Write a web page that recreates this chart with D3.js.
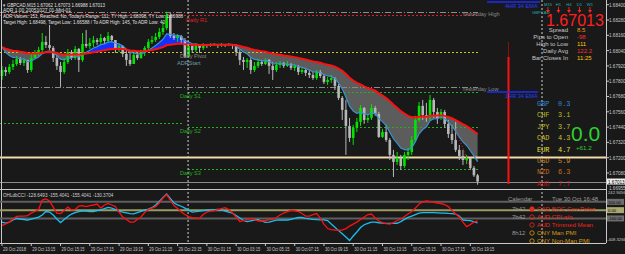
<!DOCTYPE html>
<html>
<head>
<meta charset="utf-8">
<script src="https://cdn.jsdelivr.net/npm/d3@7"></script>
<style>
body { margin: 0; background: #000; }
text { font-family: 'Liberation Sans', Arial, sans-serif; }
</style>
</head>
<body>
<div id="chart"></div>
<script>
// ---- data ----
const firstOpen = 1.67841;
const closes = [1.67888,1.67872,1.67912,1.67935,1.67975,1.67943,1.67967,1.67888,1.67982,1.68022,
  1.68045,1.68108,1.68084,1.68061,1.67982,1.67920,1.67872,1.67951,1.68029,1.67982,
  1.68053,1.67967,1.68092,1.68076,1.68100,1.68123,1.68108,1.68139,1.68116,1.68155,
  1.68123,1.68053,1.68076,1.68014,1.67967,1.67935,1.68006,1.67982,1.68022,1.68061,
  1.68108,1.68123,1.68147,1.68186,1.68217,1.68319,1.68155,1.68139,1.68155,1.68123,
  1.67993,1.68076,1.68045,1.68084,1.68061,1.68092,1.68084,1.68092,1.68092,1.68084,
  1.68092,1.68084,1.68092,1.68084,1.68029,1.67967,1.67951,1.67967,1.67888,1.67920,
  1.67951,1.67935,1.67967,1.67920,1.67888,1.67927,1.67943,1.67920,1.67935,1.67904,
  1.67920,1.67872,1.67888,1.67865,1.67849,1.67825,1.67872,1.67841,1.67794,1.67810,
  1.67825,1.67763,1.67669,1.67575,1.67449,1.67355,1.67434,1.67481,1.67590,1.67496,
  1.67512,1.67590,1.67543,1.67363,1.67402,1.67339,1.67222,1.67167,1.67198,1.67135,
  1.67222,1.67245,1.67339,1.67496,1.67606,1.67535,1.67520,1.67653,1.67559,1.67512,
  1.67559,1.67465,1.67386,1.67339,1.67261,1.67214,1.67182,1.67198,1.67120,1.67062,
  1.67013];
const highs = [1.67920,1.67912,1.67935,1.67967,1.67998,1.67990,1.67982,1.67967,1.68022,1.68045,
  1.68069,1.68178,1.68155,1.68241,1.68076,1.68006,1.67951,1.67982,1.68053,1.68045,
  1.68076,1.68061,1.68178,1.68202,1.68139,1.68155,1.68139,1.68170,1.68147,1.68186,
  1.68163,1.68123,1.68092,1.68084,1.68045,1.68029,1.68022,1.68022,1.68045,1.68076,
  1.68131,1.68155,1.68178,1.68217,1.68265,1.68345,1.68335,1.68178,1.68170,1.68163,
  1.68139,1.68092,1.68084,1.68098,1.68092,1.68098,1.68092,1.68098,1.68098,1.68092,
  1.68098,1.68092,1.68098,1.68092,1.68092,1.68045,1.67990,1.67982,1.67982,1.67951,
  1.67975,1.67967,1.67982,1.67975,1.67951,1.67951,1.67959,1.67951,1.67959,1.67943,
  1.67935,1.67927,1.67912,1.67904,1.67888,1.67872,1.67888,1.67888,1.67857,1.67833,
  1.67849,1.67833,1.67778,1.67684,1.67653,1.67512,1.67457,1.67512,1.67614,1.67598,
  1.67543,1.67622,1.67606,1.67559,1.67426,1.67457,1.67355,1.67261,1.67245,1.67222,
  1.67245,1.67277,1.67371,1.67528,1.67637,1.67653,1.67630,1.67692,1.67669,1.67590,
  1.67582,1.67575,1.67496,1.67457,1.67481,1.67300,1.67261,1.67222,1.67198,1.67135,
  1.67073];
const lows = [1.67810,1.67841,1.67857,1.67888,1.67920,1.67927,1.67920,1.67865,1.67872,1.67982,
  1.67998,1.68029,1.68061,1.68045,1.67951,1.67888,1.67755,1.67857,1.67935,1.67967,
  1.67967,1.67872,1.67951,1.68061,1.68053,1.68069,1.68084,1.68092,1.68092,1.68100,
  1.68108,1.68022,1.68029,1.67990,1.67920,1.67920,1.67951,1.67967,1.67975,1.67998,
  1.68045,1.68092,1.68108,1.68131,1.68163,1.68202,1.68139,1.68123,1.68108,1.68100,
  1.67982,1.67990,1.68022,1.68029,1.68022,1.68045,1.68061,1.68069,1.68076,1.68061,
  1.68069,1.68069,1.68076,1.68053,1.67998,1.67927,1.67888,1.67904,1.67857,1.67872,
  1.67904,1.67920,1.67927,1.67857,1.67810,1.67872,1.67904,1.67904,1.67912,1.67888,
  1.67880,1.67849,1.67857,1.67841,1.67825,1.67810,1.67810,1.67825,1.67778,1.67771,
  1.67786,1.67731,1.67653,1.67496,1.67222,1.67324,1.67300,1.67402,1.67449,1.67465,
  1.67473,1.67496,1.67528,1.67355,1.67355,1.67324,1.67182,1.67049,1.67143,1.67104,
  1.67120,1.67182,1.67222,1.67324,1.67481,1.67496,1.67481,1.67496,1.67512,1.67465,
  1.67496,1.67434,1.67355,1.67308,1.67245,1.67182,1.67143,1.67151,1.67104,1.67049,
  1.66988];
const cciRed = [-186,-165,-144,-107,-75,-71,-71,-66,-35,-16,7,122,136,110,37,-35,-41,-5,37,1,
  7,49,55,43,55,62,74,25,62,80,62,43,-23,-83,-113,-144,-144,-113,-83,-29,
  7,25,43,86,146,188,122,55,19,-23,-53,-77,-89,-95,-99,-53,-23,-11,-5,7,
  19,31,7,-35,-83,-137,-125,-113,-101,-113,-131,-131,-125,-116,-111,-89,-59,-35,-17,1,
  -5,-17,-41,-71,-71,-53,-41,-95,-168,-222,-234,-240,-240,-240,-222,-192,-168,-144,-113,-83,
  -53,-47,-95,-131,-150,-162,-168,-150,-125,-107,-77,-47,-17,25,74,98,110,104,94,86,
  80,68,43,-5,-47,-83,-144,-198,-174,-144,-129];
const cciBlue = [-144,-156,-144,-119,-101,-107,-113,-119,-107,-95,-83,-59,-17,-23,-59,-107,-150,-113,-77,-47,
  -29,-17,-8,-11,-17,-17,-5,4,17,33,25,7,-14,-25,-33,-41,-45,-29,-14,-1,
  13,30,62,104,152,194,140,86,64,47,25,1,-23,-19,-13,-5,1,4,6,8,
  4,-11,-23,-37,-65,-95,-125,-139,-129,-119,-115,-131,-148,-144,-131,-121,-119,-119,-119,-110,
  -99,-89,-89,-98,-105,-111,-115,-117,-118,-125,-168,-207,-247,-286,-324,-367,-312,-264,-210,-176,
  -160,-144,-144,-152,-156,-159,-159,-159,-158,-139,-112,-88,-71,-53,-35,-31,-31,-31,-31,-33,
  -35,-37,-40,-42,-47,-71,-119,-123,-126,-140,-155];
const timeLabels = ['29 Oct 2018','29 Oct 13:15','29 Oct 15:15','29 Oct 17:15','29 Oct 19:15','29 Oct 21:15',
  '29 Oct 23:15','30 Oct 01:15','30 Oct 03:15','30 Oct 05:15','30 Oct 07:15','30 Oct 09:15',
  '30 Oct 11:15','30 Oct 13:15','30 Oct 15:15','30 Oct 17:15','30 Oct 19:15'];
const timeLabelBars = [0,8,16,24,32,40,48,56,64,72,80,88,96,104,112,120,128];
const priceTicks = [1.68400,1.68280,1.68160,1.68040,1.67920,1.67800,1.67680,1.67560,1.67440,1.67320,1.67200,1.67080];
const pivotNames = ['Daily R1','Daily Pivot','Daily S1','Daily S2','Daily S3'];
const pivotPrices = [1.68319,1.68031,1.67717,1.67441,1.67112];
const pivotColors = ['#e02020','#c8c820','#20b020','#20b020','#20b020'];
const yesterdayNames = ['Yesterday High','Yesterday Low'];
const yesterdayPrices = [1.68345,1.67755];
const prevS2 = 1.67473, weeklyLevel = 1.67206, bid = 1.67013;
const currencies = ['GBP','CHF','JPY','CAD','EUR','USD','NZD','AUD'];
const strength = [0.3,3.1,3.7,4.3,4.7,5.9,6.3,7.7];
const strengthColors = ['#2f86d8','#b6bd1c','#c4c424','#cfc22a','#e6e232','#c88a28','#cf6a1c','#cc1414'];
const infoNames = ['Spread','Pips to Open','High to Low','Daily Avg','Bar Closes In'];
const infoValues = ['8.5','-98','111','122.2','11:25'];
const infoColors = ['#e89a10','#ff2a2a','#ffc400','#ff2a2a','#ffc400'];
const tfNames = ['M15','H1','H4','D1','W1'];
const calTimes = ['7h42','7h42','','8h12',''];
const calEvents = ['CAD BOC Gov Poloz','AUD CPI q/q','AUD Trimmed Mean','CNY Man PMI','CNY Non-Man PMI'];
const calColors = ['#e8281e','#e8281e','#e8281e','#d89a10','#d89a10'];
const cciLevels = [100, 0, -100];
// trend marks drawn by an indicator on the last bars
const trendBars = [124, 128];
const trendPrices = [1.67426, 1.67120];

// ---- layout ----
const W = 625, H = 254, R = 606,
    mainBot = 188, cciTop = 190, cciBot = 243;
const n = closes.length;
const opens = closes.map((c, i) => i === 0 ? firstOpen : closes[i - 1]);

const x = d3.scaleLinear().domain([0, n - 1]).range([2, 477.6]);
const y = d3.scaleLinear().domain([1.6697, 1.68437]).range([187, 0]);
const yc = d3.scaleLinear().domain([-408.3266, 242.9456]).range([244, cciTop]);

function ema(vals, period, seed) {
  const k = 2 / (period + 1);
  let prev = seed;
  return vals.map(v => prev = prev + k * (v - prev));
}
const slow = ema(closes, 34, 1.68076);
const fast = ema(closes, 8, 1.68123);

const svg = d3.select('#chart').append('svg')
    .attr('width', W)
    .attr('height', H)
    .style('background', '#191919');

svg.append('defs').append('clipPath').attr('id', 'clipMain')
  .append('rect').attr('x', 0).attr('y', 0).attr('width', R).attr('height', mainBot);

const main = svg.append('g').attr('clip-path', 'url(#clipMain)');

// EMA cloud
const cloudBlue = d3.area().x((d, i) => x(i))
    .y0((d, i) => y(slow[i])).y1((d, i) => y(Math.max(fast[i], slow[i])));
const cloudGray = d3.area().x((d, i) => x(i))
    .y0((d, i) => y(slow[i])).y1((d, i) => y(Math.min(fast[i], slow[i])));
main.append('path').datum(closes).attr('d', cloudGray).attr('fill', '#5c5c5c');
main.append('path').datum(closes).attr('d', cloudBlue).attr('fill', '#1430ff');

// level lines
function hline(g, p, x1, x2, color, dash, width) {
  g.append('line').attr('x1', x1).attr('x2', x2).attr('y1', Math.round(y(p)) + 0.5).attr('y2', Math.round(y(p)) + 0.5)
    .attr('stroke', color).attr('stroke-width', width || 1).attr('stroke-dasharray', dash || null);
}
yesterdayPrices.forEach(p => hline(main, p, 0, 478, '#8a8a8a', '6,2,1,2'));
pivotPrices.forEach((p, i) => hline(main, p, i <= 1 ? 0 : 188, 478, pivotColors[i], '2,2'));
hline(main, prevS2, 0, 182, '#20b020', '2,2');
hline(main, weeklyLevel, 0, R, '#f2dca8', null, 2);
hline(main, bid, 0, R, '#8c8c8c', null, 1);

// period separators
[x(51) - 0.5, 542].forEach(sx => {
  svg.append('line').attr('x1', sx).attr('x2', sx).attr('y1', 0).attr('y2', cciBot)
    .attr('stroke', '#d0d0d0').attr('stroke-dasharray', '2,2');
});

// candles
const bw = 2.6;
const cg = main.append('g');
closes.forEach((c, i) => {
  const up = c >= opens[i];
  const col = up ? '#00e600' : '#b8b8b8';
  cg.append('line').attr('x1', x(i)).attr('x2', x(i))
    .attr('y1', y(highs[i])).attr('y2', y(lows[i])).attr('stroke', col).attr('stroke-width', 1);
  const t = y(Math.max(c, opens[i])), b = y(Math.min(c, opens[i]));
  cg.append('rect').attr('x', x(i) - bw / 2).attr('y', t).attr('width', bw).attr('height', Math.max(1, b - t))
    .attr('fill', col);
});

// EMA lines
const lineOf = arr => d3.line().x((d, i) => x(i)).y(d => y(d))(arr);
main.append('path').attr('d', lineOf(fast)).attr('fill', 'none').attr('stroke', '#3a92cc').attr('stroke-width', 1.2);
main.append('path').attr('d', lineOf(slow)).attr('fill', 'none').attr('stroke', '#ff1010').attr('stroke-width', 2);
main.append('line').attr('x1', x(trendBars[0])).attr('x2', x(trendBars[1]))
  .attr('y1', y(trendPrices[0])).attr('y2', y(trendPrices[1]))
  .attr('stroke', '#ff2020').attr('stroke-dasharray', '1,2');

// level labels
const lab = (t, lx, ly, col, size) => svg.append('text').attr('x', lx).attr('y', ly).text(t)
    .attr('fill', col).style('font-size', (size || 6) + 'px');
pivotNames.forEach((t, i) => lab(t, i === 0 ? 186 : 180, y(pivotPrices[i]) + (i === 0 ? 7 : 6), i === 1 ? '#8a8a8a' : pivotColors[i], 5.6));
lab('ADRStart', 177, 65, '#6f9aa8', 5.6);
yesterdayNames.forEach((t, i) => lab(t, 462, y(yesterdayPrices[i]) + 4, '#8a8a8a', 5.6));

// ADR bar and H1/H4 EMA markers
svg.append('line').attr('x1', 508.5).attr('x2', 508.5).attr('y1', 42).attr('y2', 57).attr('stroke', '#8a1010').attr('stroke-width', 1);
svg.append('line').attr('x1', 508.5).attr('x2', 508.5).attr('y1', 57).attr('y2', 184).attr('stroke', '#ff1010').attr('stroke-width', 2);
svg.append('line').attr('x1', 487).attr('x2', 540).attr('y1', 2).attr('y2', 2).attr('stroke', '#1a2cff').attr('stroke-width', 1.5);
svg.append('line').attr('x1', 487).attr('x2', 538).attr('y1', 92).attr('y2', 92).attr('stroke', '#1a2cff').attr('stroke-width', 1.5);
lab('4HR 34 EMA', 505, 8, '#2a3cff', 5.6);
lab('1HR 34 EMA', 505, 98, '#2a3cff', 5.6);

// header text, squeezed to the widths seen on the screenshot
const hdr = ['\u25BE GBPCAD,M15  1.67062 1.67073 1.66988 1.67013',
  'ADR 1.00 20051027 01-Mid-01',
  "ADR Values: 151, Reached: No, Today's Range: 111, TY High: 1.68098, TY Low: 1.66988",
  'Target High: 1.68498, Target Low: 1.66588 / To ADR High: 145, To ADR Low: 40'];
const hdrWidths = [102, 68, 180, 162];
const hdrBase = [7, 12.4, 18.2, 24.2];
hdr.forEach((t, i) => lab(t, 3, hdrBase[i], '#e0e0e0', 5)
  .attr('textLength', hdrWidths[i]).attr('lengthAdjust', 'spacingAndGlyphs'));

// info panel
tfNames.forEach((t, i) => {
  const cx = 548 + i * 10.5;
  lab(t, cx, 6, '#20b0b0', 4.2).attr('text-anchor', 'middle');
  svg.append('line').attr('x1', cx).attr('x2', cx).attr('y1', 7).attr('y2', 11).attr('stroke', '#ff2020');
  svg.append('path').attr('d', `M${cx - 2},10 L${cx + 2},10 L${cx},13 Z`).attr('fill', '#ff2020');
});
lab('GBPCAD', 532, 14, '#20b0b0', 4.2);
lab('1.67013', 546, 25.5, '#ff2020', 16);
infoNames.forEach((t, i) => {
  lab(t, 568, 32 + i * 7, '#c8c8c8', 6).attr('text-anchor', 'end');
  lab(infoValues[i], 577, 32 + i * 7, infoColors[i], 6);
});

// currency strength
currencies.forEach((c, i) => {
  const cy = 106 + i * 11.4;
  lab(c, 537, cy, strengthColors[i], 6.9).style('font-family', "'Liberation Mono', monospace");
  lab(strength[i].toFixed(1), 558, cy, strengthColors[i], 6.9).style('font-family', "'Liberation Mono', monospace");
});
lab('0.0', 571, 141, '#2ed02e', 21);
lab('+61.2', 576, 150, '#2ed02e', 6.2);

// price axis
svg.append('line').attr('x1', R + 0.5).attr('x2', R + 0.5).attr('y1', 0).attr('y2', cciBot).attr('stroke', '#c8c8c8');
priceTicks.forEach(p => {
  svg.append('line').attr('x1', R).attr('x2', R + 3).attr('y1', y(p)).attr('y2', y(p)).attr('stroke', '#c8c8c8');
  lab(p.toFixed(5), R + 3, y(p) + 2, '#c8c8c8', 4.6);
});
svg.append('rect').attr('x', R + 1).attr('y', y(bid) - 3).attr('width', 18).attr('height', 6).attr('fill', '#f0f0f0');
lab(bid.toFixed(5), R + 2, y(bid) + 2, '#000', 4.6);
lab('1.66955', R + 3, 190, '#c8c8c8', 4.6);

// panel separators and frame
svg.append('line').attr('x1', 0).attr('x2', R).attr('y1', 189.5).attr('y2', 189.5).attr('stroke', '#c8c8c8');
svg.append('line').attr('x1', 0).attr('x2', R).attr('y1', cciBot + 0.5).attr('y2', cciBot + 0.5).attr('stroke', '#c8c8c8');
svg.append('line').attr('x1', 1.5).attr('x2', 1.5).attr('y1', 0).attr('y2', cciBot).attr('stroke', '#c8c8c8');

// CCI panel
svg.append('defs').append('clipPath').attr('id', 'clipCci')
  .append('rect').attr('x', 0).attr('y', cciTop).attr('width', R).attr('height', cciBot - cciTop);
const cci = svg.append('g').attr('clip-path', 'url(#clipCci)');
cciLevels.forEach(v => {
  cci.append('line').attr('x1', 0).attr('x2', R).attr('y1', yc(v)).attr('y2', yc(v))
    .attr('stroke', v === 0 ? '#9a9a62' : '#5e5e5e').attr('stroke-width', 2);
});
const cciLine = d3.line().x((d, i) => x(i)).y(d => yc(d));
cci.append('path').attr('d', cciLine(cciBlue)).attr('fill', 'none').attr('stroke', '#18c0f0').attr('stroke-width', 1.3);
cci.append('path').attr('d', cciLine(cciRed)).attr('fill', 'none').attr('stroke', '#ff1010').attr('stroke-width', 1.3);
lab('OHLdbCCI -128.6493 -155.4041 -155.4041 -130.3704', 3, 197, '#d0d0d0', 4.6);
lab('242.9456', R + 2, 194, '#c8c8c8', 4.2);
lab('-408.3266', R + 1, 241, '#c8c8c8', 4.2);
cciLevels.forEach(v => {
  svg.append('rect').attr('x', R + 1).attr('y', yc(v) - 3).attr('width', 17).attr('height', 6)
    .attr('fill', v === 0 ? '#a8a870' : '#6e6e6e');
  lab(v.toFixed(2), R + 2, yc(v) + 2, '#000', 4.2);
});

// calendar
lab('Calendar', 508, 201, '#9a9a9a', 6);
lab('Tue 30 Oct 16:48', 552, 201, '#9a9a9a', 6);
calEvents.forEach((e, i) => {
  const cy = 211 + i * 8;
  if (calTimes[i]) lab(calTimes[i], 512, cy, '#9a9a9a', 6);
  svg.append('circle').attr('cx', 532).attr('cy', cy - 2).attr('r', 2.2)
    .attr('fill', i === 0 ? calColors[i] : 'none').attr('stroke', calColors[i]).attr('stroke-width', 0.8);
  lab(e, 537, cy, calColors[i], 6.2);
});

// time axis
timeLabelBars.forEach((b, i) => {
  svg.append('line').attr('x1', x(b)).attr('x2', x(b)).attr('y1', cciBot).attr('y2', cciBot + 3).attr('stroke', '#c8c8c8');
  lab(timeLabels[i], x(b) + 1, 251, '#c8c8c8', 4.8)
    .attr('textLength', 23).attr('lengthAdjust', 'spacingAndGlyphs');
});
</script>
</body>
</html>
